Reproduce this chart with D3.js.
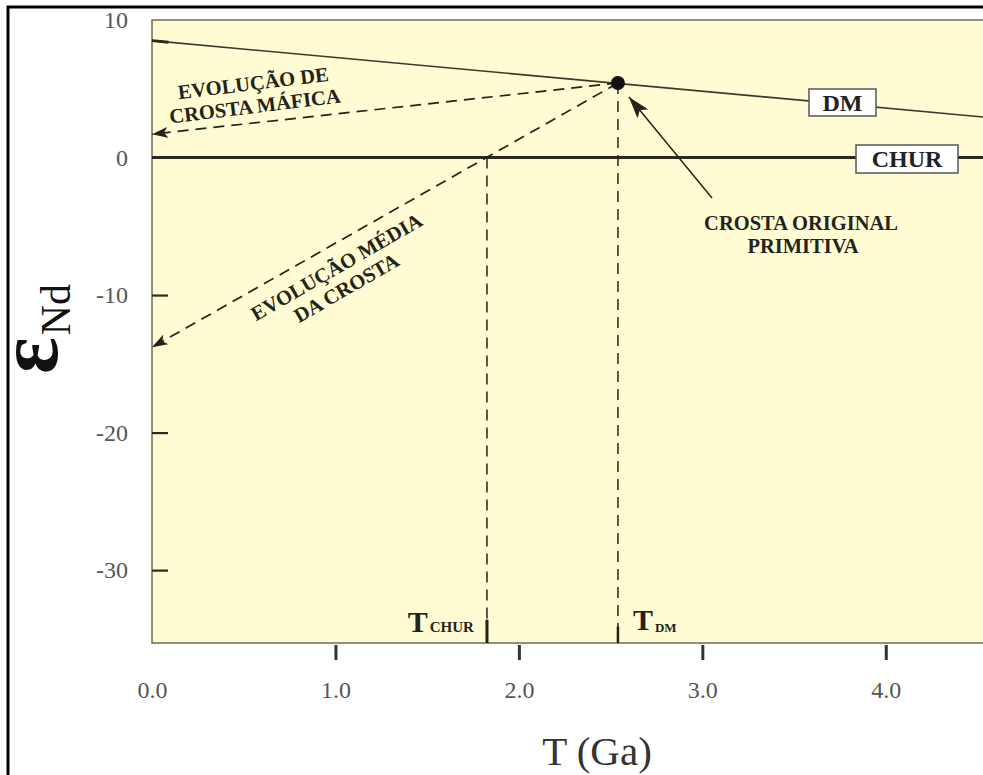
<!DOCTYPE html>
<html><head><meta charset="utf-8">
<script src="https://cdn.jsdelivr.net/npm/d3@7/dist/d3.min.js"></script>
<style>html,body{margin:0;padding:0;background:#fff;} svg{display:block;}</style>
</head><body>
<svg id="chart" width="983" height="775"></svg>
<script>
// ---- data ----
const xTickValues = [0, 1, 2, 3, 4];
const xTickLabels = ["0.0", "1.0", "2.0", "3.0", "4.0"];
const yTickValues = [10, 0, -10, -20, -30];
const yTickLabels = ["10", "0", "-10", "-20", "-30"];
const dmLine = [{t: 0, e: 8.5}, {t: 4.53, e: 2.95}];
const dmStub = [{t: 0, e: 8.5}, {t: 0.09, e: 8.39}];
const churLine = [{t: 0, e: 0}, {t: 4.53, e: 0}];
const crustPoint = {t: 2.54, e: 5.42};
const tChur = 1.826;
const tDM = 2.54;
const maficEnd = {t: 0, e: 1.7};
const meanEnd = {t: 0, e: -13.8};
const eBottom = -35.3;

// ---- layout ----
const svg = d3.select("#chart");
const x = d3.scaleLinear().domain([0, 4.53]).range([152, 983]);
const y = d3.scaleLinear().domain([eBottom, 10]).range([643, 20]);
const ink = "#23231a";
const serif = "'Liberation Serif','Times New Roman',serif";

// outer frame
svg.append("path").attr("d", "M8,775 L8,7 L983,7").attr("fill", "none")
  .attr("stroke", "#000").attr("stroke-width", 3);

// plot background
svg.append("rect").attr("x", x(0)).attr("y", y(10))
  .attr("width", x(4.53) - x(0) + 5).attr("height", y(eBottom) - y(10))
  .attr("fill", "#fffbd2").attr("stroke", "#6e6c50").attr("stroke-width", 1.5);

// defs: arrowheads (tip at +x)
const defs = svg.append("defs");
defs.append("marker").attr("id", "arrDash").attr("viewBox", "0 0 16 11")
  .attr("refX", 16).attr("refY", 5.5).attr("markerWidth", 16).attr("markerHeight", 11)
  .attr("markerUnits", "userSpaceOnUse").attr("orient", "auto")
  .append("path").attr("d", "M16,5.5 L0,0 L4,5.5 L0,11 Z").attr("fill", ink);
defs.append("marker").attr("id", "arrSolid").attr("viewBox", "0 0 22 14")
  .attr("refX", 22).attr("refY", 7).attr("markerWidth", 22).attr("markerHeight", 14)
  .attr("markerUnits", "userSpaceOnUse").attr("orient", "auto")
  .append("path").attr("d", "M22,7 L0,0 L5,7 L0,14 Z").attr("fill", ink);

// axes
const xAxis = d3.axisBottom(x).tickValues(xTickValues)
  .tickFormat((d, i) => xTickLabels[i]).tickSize(17).tickPadding(21);
const gx = svg.append("g").attr("transform", `translate(0,${y(eBottom)})`).call(xAxis);
gx.select(".domain").remove();
gx.selectAll(".tick line").attr("stroke", "#333").attr("stroke-width", 3)
  .attr("y1", 2).attr("opacity", d => d === 0 ? 0 : 1);
gx.selectAll(".tick text").attr("font-family", serif).attr("font-size", 24)
  .attr("fill", "#555");

const yAxis = d3.axisLeft(y).tickValues(yTickValues)
  .tickFormat((d, i) => yTickLabels[i]).tickSize(-16).tickPadding(24);
const gy = svg.append("g").attr("transform", `translate(${x(0)},0)`).call(yAxis);
gy.select(".domain").remove();
gy.selectAll(".tick line").attr("stroke", "#2a2a20").attr("stroke-width", 2.2)
  .attr("opacity", d => (d === 10 || d === 0) ? 0 : 1);
gy.selectAll(".tick text").attr("font-family", serif).attr("font-size", 24)
  .attr("fill", "#555");

const line = d3.line().x(d => x(d.t)).y(d => y(d.e));

// DM line
svg.append("path").datum(dmLine).attr("d", line).attr("fill", "none")
  .attr("stroke", "#3a3a2a").attr("stroke-width", 1.6);
svg.append("path").datum(dmStub).attr("d", line).attr("fill", "none")
  .attr("stroke", "#2a2a20").attr("stroke-width", 3);
// CHUR line
svg.append("path").datum(churLine).attr("d", line).attr("fill", "none")
  .attr("stroke", "#2a2a20").attr("stroke-width", 3);

// dashed lines
const dash = "11,7";
svg.append("path").datum([crustPoint, maficEnd]).attr("d", line).attr("fill", "none")
  .attr("stroke", ink).attr("stroke-width", 1.7).attr("stroke-dasharray", dash)
  .attr("marker-end", "url(#arrDash)");
svg.append("path").datum([crustPoint, meanEnd]).attr("d", line).attr("fill", "none")
  .attr("stroke", ink).attr("stroke-width", 1.7).attr("stroke-dasharray", dash)
  .attr("marker-end", "url(#arrDash)");
svg.append("path").datum([{t: tChur, e: 0}, {t: tChur, e: eBottom}]).attr("d", line)
  .attr("fill", "none").attr("stroke", ink).attr("stroke-width", 1.5).attr("stroke-dasharray", dash);
svg.append("path").datum([crustPoint, {t: tDM, e: eBottom}]).attr("d", line)
  .attr("fill", "none").attr("stroke", ink).attr("stroke-width", 1.5).attr("stroke-dasharray", dash);
// small solid marks at bottom
svg.append("path").datum([{t: tChur, e: -33.6}, {t: tChur, e: eBottom}]).attr("d", line)
  .attr("stroke", ink).attr("stroke-width", 3);
svg.append("path").datum([{t: tDM, e: -34.1}, {t: tDM, e: eBottom}]).attr("d", line)
  .attr("stroke", ink).attr("stroke-width", 2.5);

// crust point
svg.append("circle").attr("cx", x(crustPoint.t)).attr("cy", y(crustPoint.e)).attr("r", 7)
  .attr("fill", "#111");

// arrow to crust point
svg.append("line").attr("x1", 712).attr("y1", 198).attr("x2", x(crustPoint.t) + 11).attr("y2", y(crustPoint.e) + 14)
  .attr("stroke", ink).attr("stroke-width", 1.5).attr("marker-end", "url(#arrSolid)");

// boxed labels
function boxLabel(text, x0, y0, w, h) {
  svg.append("rect").attr("x", x0).attr("y", y0).attr("width", w).attr("height", h)
    .attr("fill", "#fff").attr("stroke", "#555").attr("stroke-width", 1.5);
  svg.append("text").attr("x", x0 + w / 2).attr("y", y0 + h / 2 + 8)
    .attr("text-anchor", "middle").attr("font-family", serif).attr("font-weight", "bold")
    .attr("font-size", 24).attr("fill", "#222").text(text);
}
boxLabel("DM", 809, 89, 67, 27);
boxLabel("CHUR", 856, 145, 102, 28);

// annotation text
function tx(g, s, px, py, size, anchor) {
  return g.append("text").attr("x", px).attr("y", py).attr("font-family", serif)
    .attr("font-weight", "bold").attr("font-size", size).attr("fill", ink)
    .attr("text-anchor", anchor || "middle").text(s);
}
const gM = svg.append("g").attr("transform", "translate(254,90) rotate(-7)");
tx(gM, "EVOLUÇÃO DE", 0, 0, 20.5);
tx(gM, "CROSTA MÁFICA", -1, 23, 20.5);

const gA = svg.append("g").attr("transform", "translate(340,273) rotate(-30)");
tx(gA, "EVOLUÇÃO MÉDIA", 0, 0, 20.5);
tx(gA, "DA CROSTA", -2, 23, 20.5);

tx(svg, "CROSTA ORIGINAL", 801, 230, 20.5);
tx(svg, "PRIMITIVA", 803, 253, 20.5);

// T labels
const tc = svg.append("text").attr("x", x(tChur) - 13).attr("y", 632).attr("text-anchor", "end")
  .attr("font-family", serif).attr("font-weight", "bold").attr("fill", ink);
tc.append("tspan").attr("font-size", 30).text("T");
tc.append("tspan").attr("font-size", 15).attr("dx", 2).text("CHUR");
const td = svg.append("text").attr("x", x(tDM) + 15).attr("y", 630).attr("text-anchor", "start")
  .attr("font-family", serif).attr("font-weight", "bold").attr("fill", ink);
td.append("tspan").attr("font-size", 30).text("T");
td.append("tspan").attr("font-size", 13).attr("dx", 2).attr("dy", 2).text("DM");

// axis titles
svg.append("text").attr("x", 597).attr("y", 765).attr("text-anchor", "middle")
  .attr("font-family", serif).attr("font-size", 41).attr("fill", "#333").text("T (Ga)");

const yl = svg.append("text").attr("transform", "translate(57,374) rotate(-90)")
  .attr("font-family", serif).attr("fill", "#111");
yl.append("tspan").attr("font-size", 86).attr("font-weight", "bold").text("ε");
yl.append("tspan").attr("font-size", 42).attr("dy", 13).attr("dx", 2).text("Nd");
</script>
</body></html>
